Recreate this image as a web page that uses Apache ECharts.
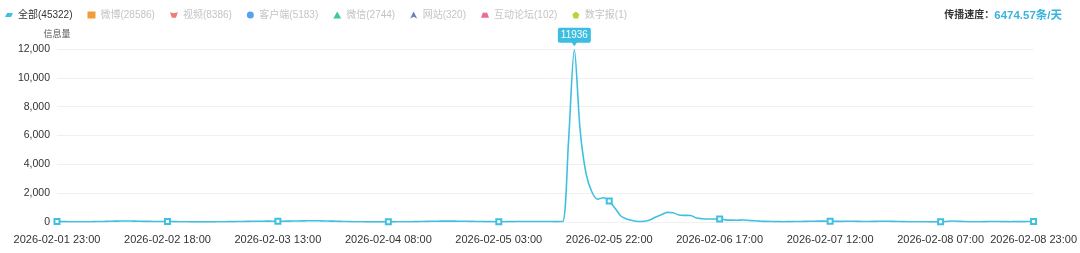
<!DOCTYPE html>
<html>
<head>
<meta charset="utf-8">
<script src="https://cdn.jsdelivr.net/npm/echarts@6/dist/echarts.min.js"></script>
<style>
html,body{margin:0;padding:0;background:#fff;}
#chart{width:1080px;height:253px;}
</style>
</head>
<body>
<div id="chart"></div>
<script>
// ---- data ----
var startTime = '2026-02-01 23:00';   // first hourly category
var hourCount = 169;                   // 2026-02-01 23:00 .. 2026-02-08 23:00
var labelStep = 19;                    // one x label every 19 hours (plus the last one)

var seriesNames = ['全部', '微博', '视频', '客户端', '微信', '网站', '互动论坛', '数字报'];
var seriesCounts = [45322, 28586, 8386, 5183, 2744, 320, 102, 1];

// hourly values of "全部" (信息量)
var totalValues = [
  30, 25, 22, 20, 18, 20, 24, 30,
  38, 48, 58, 66, 70, 64, 55, 46,
  40, 36, 34, 32, 28, 22, 16, 12,
  10, 9, 10, 12, 15, 20, 26, 32,
  38, 44, 50, 54, 58, 56, 52, 56,
  62, 70, 78, 84, 86, 82, 74, 64,
  52, 40, 30, 22, 15, 10, 8, 7,
  8, 10, 12, 14, 18, 22, 28, 36,
  44, 52, 58, 62, 60, 56, 50, 44,
  38, 32, 26, 22, 20, 22, 26, 30,
  34, 36, 38, 36, 34, 30, 28, 30,
  5600, 11936, 6360, 3390, 2100, 1590, 1680, 1450,
  950, 415, 207, 100, 35, 50, 140, 345,
  505, 670, 640, 485, 460, 450, 277, 230,
  207, 207, 207, 150, 130, 125, 140, 110,
  85, 60, 40, 30, 25, 22, 25, 30,
  38, 45, 55, 62, 60, 50, 42, 45,
  50, 48, 42, 38, 40, 45, 50, 48,
  40, 32, 25, 20, 16, 14, 12, 10,
  12, 40, 65, 55, 30, 18, 15, 20,
  28, 32, 30, 25, 22, 24, 28, 30,
  32
];

var yTicks = [0, 2000, 4000, 6000, 8000, 10000, 12000];
var speedLabel = '传播速度：';
var speedText = '6474.57条/天';

// ---- build categories ----
function pad(n){ return (n < 10 ? '0' : '') + n; }
var categories = [];
(function(){
  var p = startTime.split(/[- :]/).map(Number);
  var t0 = Date.UTC(p[0], p[1]-1, p[2], p[3], p[4]);
  for (var i = 0; i < hourCount; i++) {
    var d = new Date(t0 + i * 3600000);
    categories.push(d.getUTCFullYear() + '-' + pad(d.getUTCMonth()+1) + '-' + pad(d.getUTCDate()) + ' ' + pad(d.getUTCHours()) + ':' + pad(d.getUTCMinutes()));
  }
})();

var colors = ['#40c0e0', '#f29b3c', '#f07a78', '#5aa0f0', '#3fcb8e', '#6b7cc0', '#ec6aa0', '#b6d53a'];
var icons = [
  'path://M3,0 L12,0 L9,6 L0,6 Z',
  'rect',
  'path://M0,0 Q6,2.5 12,0 L9,8 L3,8 Z',
  'circle',
  'triangle',
  'path://M5,0 L10,10 L5,7.5 L0,10 Z',
  'path://M3,0 Q6,1.5 9,0 L12,8 L0,8 Z',
  'path://M5,0 L10,3.8 L8.1,10 L1.9,10 L0,3.8 Z'
];

var FONT = '"Liberation Sans", "Noto Sans CJK SC", sans-serif';

var legendData = seriesNames.map(function(n, i){
  return {
    name: n + '(' + seriesCounts[i] + ')',
    icon: icons[i],
    itemStyle: { color: colors[i] },
    textStyle: { color: i === 0 ? '#333' : '#c4c4c4' }
  };
});

var series = seriesNames.map(function(n, i){
  if (i === 0) {
    return {
      name: n + '(' + seriesCounts[i] + ')',
      type: 'line',
      data: totalValues,
      smooth: 0.3,
      symbol: 'emptyRect',
      symbolSize: 5,
      showSymbol: true,
      showAllSymbol: 'auto',
      lineStyle: { width: 1.6, color: colors[0] },
      itemStyle: { color: colors[0], borderWidth: 1 },
      markPoint: {
        data: [{ type: 'max' }],
        symbol: 'path://M2,0 H31 Q33,0 33,2 V13 Q33,15 31,15 H19 L16.5,18.5 L14,15 H2 Q0,15 0,13 V2 Q0,0 2,0 Z',
        symbolSize: [33, 18.5],
        symbolKeepAspect: false,
        symbolOffset: [0, -13],
        itemStyle: { color: '#3cbde2' },
        label: {
          show: true, color: '#fff', fontSize: 10, fontFamily: FONT,
          offset: [0, -1.8]
        }
      }
    };
  }
  return {
    name: n + '(' + seriesCounts[i] + ')',
    type: 'line',
    data: [],
    itemStyle: { color: colors[i] }
  };
});

var chart = echarts.init(document.getElementById('chart'), null, { renderer: 'canvas' });
chart.setOption({
  animation: false,
  color: colors,
  textStyle: { fontFamily: FONT },
  title: {
    right: 13, top: 5,
    text: '{a|' + speedLabel + '}{b|' + speedText + '}',
    textStyle: {
      rich: {
        a: { fontSize: 10, color: '#333', fontFamily: FONT },
        b: { fontSize: 11.5, color: '#3ab4dc', fontFamily: FONT }
      }
    }
  },
  legend: {
    left: 0, top: 5,
    itemWidth: 8, itemHeight: 7, itemGap: 15,
    textStyle: { fontSize: 10, fontFamily: FONT },
    data: legendData
  },
  grid: { left: 57, right: 46, top: 49, bottom: 31, containLabel: false },
  xAxis: {
    type: 'category',
    boundaryGap: false,
    data: categories,
    axisLine: { show: false },
    axisTick: { show: false },
    axisLabel: {
      interval: function(idx){ return idx % labelStep === 0 || idx === hourCount - 1; },
      hideOverlap: false,
      color: '#333', fontSize: 11, margin: 12, fontFamily: FONT
    },
    splitLine: { show: false }
  },
  yAxis: {
    type: 'value',
    min: yTicks[0], max: yTicks[yTicks.length - 1], interval: yTicks[1] - yTicks[0],
    name: '信息量',
    nameLocation: 'end',
    nameGap: 10,
    nameTextStyle: { color: '#555', fontSize: 9, align: 'center', fontFamily: FONT },
    axisLine: { show: false },
    axisTick: { show: false },
    axisLabel: {
      color: '#333', fontSize: 10.5, margin: 7, fontFamily: FONT,
      formatter: function(v){ return v.toLocaleString('en-US'); }
    },
    splitLine: { lineStyle: { color: '#f0f0f0', width: 1 } }
  },
  series: series
});
</script>
</body>
</html>
